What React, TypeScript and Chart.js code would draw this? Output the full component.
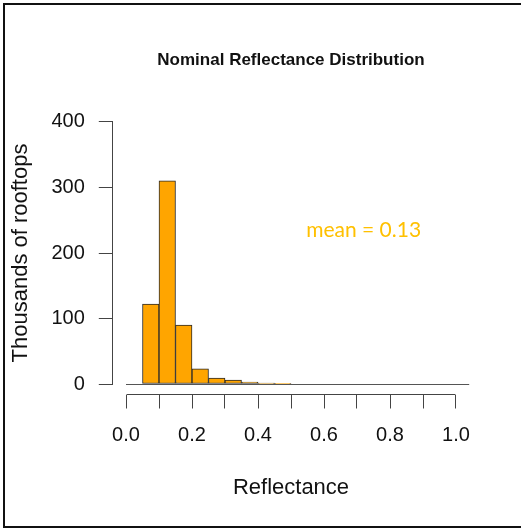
import { useEffect, useRef } from 'react';
import { Chart, registerables } from 'chart.js';

Chart.register(...registerables);

// ---- data ----
const BIN_WIDTH = 0.05;
const BIN_STARTS = [0, 0.05, 0.1, 0.15, 0.2, 0.25, 0.3, 0.35, 0.4, 0.45, 0.5, 0.55, 0.6, 0.65, 0.7, 0.75, 0.8, 0.85, 0.9, 0.95, 1.0];
const COUNTS = [0, 122, 310, 90, 23, 9, 6, 3, 1.5, 0.5, 0, 0, 0, 0, 0, 0, 0, 0, 0, 0, 0];
const Y_TICKS = [0, 100, 200, 300, 400];
const X_TICKS = [0, 0.1, 0.2, 0.3, 0.4, 0.5, 0.6, 0.7, 0.8, 0.9, 1.0];
const X_LABELED = [0, 0.2, 0.4, 0.6, 0.8, 1.0];
const X_LIMITS = [-0.04, 1.04];
const Y_LIMITS = [-16, 416];
const TITLE = 'Nominal Reflectance Distribution';
const X_TITLE = 'Reflectance';
const Y_TITLE = 'Thousands of rooftops';
const MEAN_TEXT = 'mean = 0.13';
const MEAN_AT_X = 0.72;
const MEAN_AT_Y = 235;

const FONT = "'Liberation Sans', Arial, sans-serif";
const AXIS_COLOR = '#444';

function align(px: number) {
  return Math.round(px - 0.5) + 0.5;
}

const rAxesPlugin = {
  id: 'rAxes',
  beforeDraw(chart: any) {
    // outer frame (left, top, bottom edges only)
    const { ctx, width, height } = chart;
    ctx.save();
    ctx.fillStyle = '#111';
    ctx.fillRect(3, 3, width - 3, 2);
    ctx.fillRect(3, 3, 2, height - 6);
    ctx.fillRect(3, height - 3, width - 3, 2);
    ctx.restore();
  },
  beforeDatasetsDraw(chart: any) {
    const { ctx, chartArea, scales } = chart;
    const x = scales.x;
    const y = scales.y;
    ctx.save();
    // zero-height bins baseline
    ctx.strokeStyle = '#555';
    ctx.lineWidth = 1;
    const y0 = align(y.getPixelForValue(0));
    ctx.beginPath();
    ctx.moveTo(x.getPixelForValue(BIN_STARTS[0]), y0);
    ctx.lineTo(chartArea.right, y0);
    ctx.stroke();
    ctx.restore();
  },
  afterDraw(chart: any) {
    const { ctx, chartArea, scales } = chart;
    const x = scales.x;
    const y = scales.y;
    ctx.save();
    ctx.strokeStyle = AXIS_COLOR;
    ctx.lineWidth = 1;
    // y axis line (0..400)
    const xl = align(chartArea.left);
    ctx.beginPath();
    ctx.moveTo(xl, align(y.getPixelForValue(Y_TICKS[0])));
    ctx.lineTo(xl, align(y.getPixelForValue(Y_TICKS[Y_TICKS.length - 1])));
    ctx.stroke();
    // x axis line (0..1)
    const yb = align(chartArea.bottom);
    ctx.beginPath();
    ctx.moveTo(align(x.getPixelForValue(X_TICKS[0])), yb);
    ctx.lineTo(align(x.getPixelForValue(X_TICKS[X_TICKS.length - 1])), yb);
    ctx.stroke();
    // mean annotation
    ctx.fillStyle = '#FFC000';
    ctx.font = "21px Lato, 'Open Sans', sans-serif";
    ctx.textAlign = 'center';
    ctx.textBaseline = 'middle';
    ctx.fillText(MEAN_TEXT, x.getPixelForValue(MEAN_AT_X), y.getPixelForValue(MEAN_AT_Y));
    ctx.restore();
  },
};

export default function App() {
  const ref = useRef<HTMLCanvasElement>(null);

  useEffect(() => {
    const chart = new Chart(ref.current as HTMLCanvasElement, {
      type: 'bar',
      data: {
        datasets: [
          {
            data: BIN_STARTS.map((s, i) => ({ x: s + BIN_WIDTH / 2, y: COUNTS[i] })),
            backgroundColor: '#FFA500',
            borderColor: '#2a2a2a',
            borderWidth: 1,
            borderSkipped: false,
            barPercentage: 1,
            categoryPercentage: 1,
          },
        ],
      },
      options: {
        responsive: false,
        animation: false,
        layout: { padding: { left: 0, right: 51.8, top: 0, bottom: 0 } },
        plugins: {
          legend: { display: false },
          tooltip: { enabled: false },
          title: {
            display: true,
            text: TITLE,
            fullSize: false,
            color: '#111',
            font: { family: FONT, size: 17, weight: 'bold' },
            padding: { top: 49.8, bottom: 41.3 },
          },
        },
        scales: {
          x: {
            type: 'linear',
            position: 'bottom',
            offset: false,
            min: X_LIMITS[0],
            max: X_LIMITS[1],
            afterBuildTicks: (s: any) => {
              s.ticks = X_TICKS.map((v) => ({ value: v }));
            },
            afterFit: (s: any) => {
              s.height = 134.5;
            },
            ticks: {
              autoSkip: false,
              maxRotation: 0,
              padding: 15,
              color: '#111',
              font: { family: FONT, size: 20 },
              callback: (v: any) => (X_LABELED.includes(v) ? Number(v).toFixed(1) : ''),
            },
            grid: { offset: false, drawOnChartArea: false, drawTicks: true, tickLength: 14, color: AXIS_COLOR, lineWidth: 1 },
            border: { display: false },
            title: {
              display: true,
              text: X_TITLE,
              color: '#111',
              font: { family: FONT, size: 22 },
              padding: { top: 0, bottom: 28 },
            },
          },
          y: {
            type: 'linear',
            position: 'left',
            min: Y_LIMITS[0],
            max: Y_LIMITS[1],
            afterBuildTicks: (s: any) => {
              s.ticks = Y_TICKS.map((v) => ({ value: v }));
            },
            afterFit: (s: any) => {
              s.width = 112.8;
            },
            ticks: {
              autoSkip: false,
              padding: 14,
              color: '#111',
              font: { family: FONT, size: 20 },
              callback: (v: any) => String(v),
            },
            grid: { drawOnChartArea: false, drawTicks: true, tickLength: 14, color: AXIS_COLOR, lineWidth: 1 },
            border: { display: false },
            title: {
              display: true,
              text: Y_TITLE,
              color: '#111',
              font: { family: FONT, size: 22 },
              padding: { top: 8, bottom: 0 },
            },
          },
        },
      } as any,
      plugins: [rAxesPlugin],
    });
    return () => chart.destroy();
  }, []);

  return (
    <div style={{ position: 'fixed', left: 0, top: 0, width: 521, height: 529, background: '#fff', overflow: 'hidden' }}>
      <canvas
        ref={ref}
        width={521}
        height={529}
        style={{ position: 'absolute', left: 0, top: 0, width: 521, height: 529 }}
      />
    </div>
  );
}
